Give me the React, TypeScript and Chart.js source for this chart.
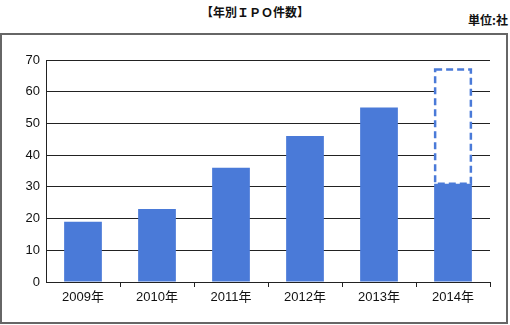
import React, { useEffect, useRef } from "react";
import { Chart, registerables } from "chart.js";

Chart.register(...registerables);

const categories = ["2009年", "2010年", "2011年", "2012年", "2013年", "2014年"];
const actualValues = [19, 23, 36, 46, 55, 31];
const forecastExtra = [null, null, null, null, null, 36];
const yTicks = [0, 10, 20, 30, 40, 50, 60, 70];

const BLUE = "#4a7ad8";
const FONT = '"Liberation Sans", Arial, "Noto Sans CJK JP", sans-serif';

const dashedPlugin = {
  id: "dashedForecast",
  afterDatasetsDraw(chart: any) {
    const meta = chart.getDatasetMeta(1);
    const ctx = chart.ctx;
    ctx.save();
    ctx.strokeStyle = BLUE;
    ctx.lineWidth = 2.5;
    ctx.setLineDash([7, 4]);
    meta.data.forEach((el: any, i: number) => {
      if (forecastExtra[i] == null) return;
      const { x, y, base, width } = el.getProps(["x", "y", "base", "width"], true);
      const l = x - width / 2 + 1;
      const r = x + width / 2 - 1;
      ctx.strokeRect(l, y, r - l, base - y);
    });
    ctx.restore();
  },
};

export default function App() {
  const ref = useRef<HTMLCanvasElement>(null);
  useEffect(() => {
    if (!ref.current) return;
    const chart = new Chart(ref.current, {
      type: "bar",
      data: {
        labels: categories,
        datasets: [
          {
            data: actualValues,
            backgroundColor: BLUE,
            borderWidth: 0,
            categoryPercentage: 1,
            barPercentage: 0.51,
            stack: "s",
          },
          {
            data: forecastExtra as any,
            backgroundColor: "#ffffff",
            borderWidth: 0,
            categoryPercentage: 1,
            barPercentage: 0.51,
            stack: "s",
          },
        ],
      },
      options: {
        animation: false,
        responsive: false,
        maintainAspectRatio: false,
        layout: { padding: { left: 0, right: 20, top: 60, bottom: 0 } },
        plugins: { legend: { display: false }, tooltip: { enabled: false }, title: { display: false } },
        scales: {
          x: {
            stacked: true,
            grid: {
              display: true,
              drawOnChartArea: false,
              drawTicks: true,
              tickLength: 5,
              offset: true,
              color: (c: any) => (c.index === 0 ? "rgba(0,0,0,0)" : "#222"),
              lineWidth: 1,
            },
            border: { display: true, color: "#222", width: 1 },
            ticks: { color: "#111", font: { family: FONT, size: 13 }, padding: 3, maxRotation: 0 },
            afterFit: (s: any) => {
              s.height = 43;
            },
          },
          y: {
            stacked: true,
            min: 0,
            max: 70,
            afterBuildTicks: (s: any) => {
              s.ticks = yTicks.map((v) => ({ value: v }));
            },
            grid: { color: "#222", lineWidth: 1, drawTicks: false },
            border: { display: true, color: "#222", width: 1 },
            ticks: { color: "#111", font: { family: FONT, size: 13 }, padding: 6 },
            afterFit: (s: any) => {
              s.width = 46;
            },
          },
        },
      },
      plugins: [dashedPlugin],
    });
    return () => chart.destroy();
  }, []);

  return (
    <div style={{ position: "absolute", left: 0, top: 0, width: 510, height: 325, background: "#fff" }}>
      <div
        style={{
          position: "absolute",
          left: 0,
          top: 33,
          width: 508,
          height: 291,
          border: "2px solid #666",
          boxSizing: "border-box",
        }}
      />
      <div
        style={{
          position: "absolute",
          left: 0,
          width: 510,
          top: 3,
          textAlign: "center",
          fontFamily: '"Noto Sans CJK JP", sans-serif',
          fontWeight: "bold",
          fontSize: 12,
          lineHeight: "18px",
          color: "#111",
        }}
      >
        【年別ＩＰＯ件数】
      </div>
      <div
        style={{
          position: "absolute",
          right: 2,
          top: 12,
          fontFamily: '"Noto Sans CJK JP", sans-serif',
          fontWeight: "bold",
          fontSize: 12,
          lineHeight: "16px",
          color: "#111",
        }}
      >
        単位:社
      </div>
      <canvas ref={ref} width={510} height={325} style={{ position: "absolute", left: 0, top: 0 }} />
    </div>
  );
}
